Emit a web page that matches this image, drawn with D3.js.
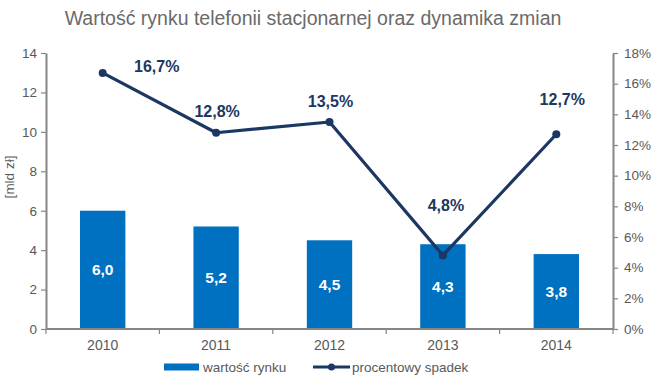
<!DOCTYPE html>
<html>
<head>
<meta charset="utf-8">
<script src="https://cdn.jsdelivr.net/npm/d3@7"></script>
<style>
  body { margin: 0; background: #fff; }
  svg { display: block; font-family: "Liberation Sans", Arial, sans-serif; }
</style>
</head>
<body>
<svg id="chart" width="655" height="384"></svg>
<script>
// chart data
const years = ['2010', '2011', '2012', '2013', '2014'];
const marketValue = [6.0, 5.2, 4.5, 4.3, 3.8];       // mld zł
const declinePct = [16.7, 12.8, 13.5, 4.8, 12.7];    // %
const leftTicks = [0, 2, 4, 6, 8, 10, 12, 14];
const rightTicks = [0, 2, 4, 6, 8, 10, 12, 14, 16, 18];

// hand placed label offsets (as in the original excel chart)
const pctLabelShift = [[54, -7], [1, -21], [1, -21], [3, -50], [6, -35]];

const width = 655, height = 384;
const margin = {top: 53, left: 46, right: 42, bottom: 55};
const plotBottom = height - margin.bottom;   // 329
const plotRight = width - margin.right;      // 613

const axisGrey = '#868686';
const textGrey = '#595959';
const barBlue = '#0070c0';
const lineNavy = '#1b3762';

const svg = d3.select('#chart');

// title
svg.append('text')
  .attr('x', 313).attr('y', 18).attr('dy', '0.35em')
  .attr('text-anchor', 'middle')
  .attr('font-size', 19.5)
  .attr('fill', '#6a6a6a')
  .text('Wartość rynku telefonii stacjonarnej oraz dynamika zmian');

// scales
const x = d3.scaleBand().domain(years)
  .range([margin.left, plotRight])
  .paddingInner(0.6).paddingOuter(0.3);
const yLeft = d3.scaleLinear().domain([0, 14]).range([plotBottom, margin.top]);
const yRight = d3.scaleLinear().domain([0, 18]).range([plotBottom, margin.top]);

// bars
svg.selectAll('rect.bar').data(marketValue)
  .enter().append('rect')
  .attr('class', 'bar')
  .attr('x', (d, i) => x(years[i]))
  .attr('width', x.bandwidth())
  .attr('y', d => yLeft(d))
  .attr('height', d => yLeft(0) - yLeft(d))
  .attr('fill', barBlue);

// bar labels
svg.selectAll('text.barlabel').data(marketValue)
  .enter().append('text')
  .attr('class', 'barlabel')
  .attr('x', (d, i) => x(years[i]) + x.bandwidth() / 2)
  .attr('y', d => (yLeft(d) + yLeft(0)) / 2)
  .attr('dy', '0.35em')
  .attr('text-anchor', 'middle')
  .attr('font-size', 15.5).attr('font-weight', 'bold')
  .attr('fill', '#fff')
  .text(d => d3.format('.1f')(d).replace('.', ','));

// axes
function styleAxis(g) {
  g.selectAll('path.domain').attr('stroke', axisGrey).attr('stroke-width', 2);
  g.selectAll('.tick line').attr('stroke', axisGrey).attr('stroke-width', 1.2);
  g.selectAll('.tick text').attr('fill', textGrey)
    .attr('font-size', 13.5).attr('font-family', '"Liberation Sans", Arial, sans-serif');
}

svg.append('g')
  .attr('transform', `translate(${margin.left},0)`)
  .call(d3.axisLeft(yLeft).tickValues(leftTicks).tickSize(5).tickSizeOuter(0).tickPadding(4))
  .call(styleAxis);

svg.append('g')
  .attr('transform', `translate(${plotRight},0)`)
  .call(d3.axisRight(yRight).tickValues(rightTicks).tickSize(5).tickSizeOuter(0).tickPadding(6)
    .tickFormat(d => d + '%'))
  .call(styleAxis);

// x axis: ticks sit on category boundaries
const xAxis = svg.append('g').attr('transform', `translate(0,${plotBottom})`);
xAxis.append('line')
  .attr('x1', margin.left).attr('x2', plotRight)
  .attr('stroke', axisGrey).attr('stroke-width', 2);
const step = x.step();
xAxis.selectAll('line.xtick').data(d3.range(years.length + 1))
  .enter().append('line')
  .attr('class', 'xtick')
  .attr('x1', i => margin.left + i * step).attr('x2', i => margin.left + i * step)
  .attr('y1', 0).attr('y2', 5)
  .attr('stroke', axisGrey).attr('stroke-width', 1.2);
xAxis.selectAll('text').data(years)
  .enter().append('text')
  .attr('x', d => x(d) + x.bandwidth() / 2)
  .attr('y', 16).attr('dy', '0.35em')
  .attr('text-anchor', 'middle')
  .attr('font-size', 14).attr('fill', textGrey)
  .text(d => d);

// y title
svg.append('text')
  .attr('transform', 'translate(9,177) rotate(-90)')
  .attr('dy', '0.35em')
  .attr('text-anchor', 'middle')
  .attr('font-size', 13.5).attr('fill', textGrey)
  .text('[mld zł]');

// line
const cx = i => x(years[i]) + x.bandwidth() / 2;
const line = d3.line().x((d, i) => cx(i)).y(d => yRight(d));
svg.append('path')
  .datum(declinePct)
  .attr('d', line)
  .attr('fill', 'none')
  .attr('stroke', lineNavy)
  .attr('stroke-width', 3.2)
  .attr('stroke-linejoin', 'round');

svg.selectAll('circle.pt').data(declinePct)
  .enter().append('circle')
  .attr('class', 'pt')
  .attr('cx', (d, i) => cx(i))
  .attr('cy', d => yRight(d))
  .attr('r', 4)
  .attr('fill', lineNavy);

svg.selectAll('text.pctlabel').data(declinePct)
  .enter().append('text')
  .attr('class', 'pctlabel')
  .attr('x', (d, i) => cx(i) + pctLabelShift[i][0])
  .attr('y', (d, i) => yRight(d) + pctLabelShift[i][1])
  .attr('dy', '0.35em')
  .attr('text-anchor', 'middle')
  .attr('font-size', 16).attr('font-weight', 'bold')
  .attr('fill', lineNavy)
  .text(d => d3.format('.1f')(d).replace('.', ',') + '%');

// legend
const legend = svg.append('g').attr('transform', 'translate(0,367)');
legend.append('rect')
  .attr('x', 164).attr('y', -3.5).attr('width', 35).attr('height', 7)
  .attr('fill', barBlue);
legend.append('text')
  .attr('x', 203).attr('dy', '0.35em')
  .attr('font-size', 13.5).attr('fill', textGrey)
  .text('wartość rynku');
legend.append('line')
  .attr('x1', 313).attr('x2', 350)
  .attr('stroke', lineNavy).attr('stroke-width', 3.2);
legend.append('circle')
  .attr('cx', 331.5).attr('r', 3.5).attr('fill', lineNavy);
legend.append('text')
  .attr('x', 352).attr('dy', '0.35em')
  .attr('font-size', 13.5).attr('fill', textGrey)
  .text('procentowy spadek');
</script>
</body>
</html>
